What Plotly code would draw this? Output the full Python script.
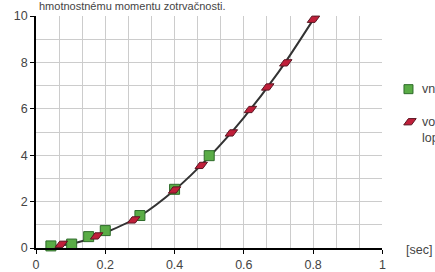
import plotly.graph_objects as go

# green series (squares)
green_x = [0.043, 0.103, 0.152, 0.2, 0.3, 0.4, 0.5]
green_y = [0.09, 0.17, 0.49, 0.75, 1.4, 2.53, 3.98]
# red series (parallelograms)
red_x = [0.073, 0.175, 0.282, 0.4, 0.477, 0.564, 0.619, 0.669, 0.721, 0.801]
red_y = [0.16, 0.52, 1.21, 2.5, 3.56, 4.96, 5.97, 6.94, 7.98, 9.86]
# curve
line_x = [0.04, 0.1, 0.15, 0.2, 0.3, 0.4, 0.5, 0.6, 0.7, 0.8, 0.815]
line_y = [0.07, 0.17, 0.38, 0.66, 1.38, 2.5, 3.93, 5.62, 7.58, 9.84, 10.2]

x_ticks = [0, 0.2, 0.4, 0.6, 0.8, 1]
x_labels = ["0", "0.2", "0.4", "0.6", "0.8", "1"]
y_ticks = [0, 2, 4, 6, 8, 10]

legend_names = ["vnútorný priemer", "vonkajší priemer<br>loptičky"]

GREEN = "#5aac46"
GREEN_EDGE = "#2e6b2a"
RED = "#c01f3a"
RED_EDGE = "#5a1622"

fig = go.Figure()
fig.add_trace(go.Scatter(x=line_x, y=line_y, mode="lines",
                         line=dict(color="#333333", width=2, shape="spline"),
                         showlegend=False))
fig.add_trace(go.Scatter(x=green_x, y=green_y, mode="markers",
                         marker=dict(symbol="square", size=10, color=GREEN, line=dict(color=GREEN_EDGE, width=1)),
                         showlegend=False, cliponaxis=False))
fig.add_trace(go.Scatter(x=red_x, y=red_y, mode="markers",
                         marker=dict(symbol="diamond-wide", size=10, angle=-27, color=RED,
                                     line=dict(color=RED_EDGE, width=1)),
                         showlegend=False, cliponaxis=False))

# legend swatches on a helper axis (pixel-like units)
fig.add_trace(go.Scatter(x=[17.2], y=[73], mode="markers", xaxis="x2", yaxis="y2",
                         marker=dict(symbol="square", size=9, color=GREEN, line=dict(color=GREEN_EDGE, width=1)),
                         showlegend=False, cliponaxis=False, hoverinfo="skip"))
fig.add_trace(go.Scatter(x=[18.7], y=[105.5], mode="markers", xaxis="x2", yaxis="y2",
                         marker=dict(symbol="diamond-wide", size=10, angle=-27, color=RED,
                                     line=dict(color=RED_EDGE, width=1)),
                         showlegend=False, cliponaxis=False, hoverinfo="skip"))

fnt = dict(family="Liberation Sans, Arial, sans-serif", size=12.5, color="#444444")

fig.update_layout(
    width=435, height=272,
    margin=dict(l=36, r=0, t=16, b=24, pad=0),
    paper_bgcolor="white", plot_bgcolor="white",
    font=fnt,
    xaxis=dict(domain=[0, 0.877], range=[0, 1], tickvals=x_ticks, ticktext=x_labels,
               showgrid=True, gridcolor="#cccccc", gridwidth=1,
               minor=dict(dtick=1/15, tick0=0, showgrid=True, gridcolor="#cccccc", gridwidth=1),
               showline=True, linecolor="black", linewidth=1.5, ticks="outside", ticklen=4, tickcolor="black",
               zeroline=False, fixedrange=True, tickfont=fnt),
    yaxis=dict(range=[0, 10], tickvals=y_ticks, showgrid=True, gridcolor="#cccccc", gridwidth=1,
               minor=dict(dtick=1, tick0=0, showgrid=True, gridcolor="#cccccc", gridwidth=1),
               showline=True, linecolor="black", linewidth=1.5, ticks="outside", ticklen=4, tickcolor="black",
               zeroline=False, fixedrange=True, tickfont=fnt),
    xaxis2=dict(domain=[0.9, 1.0], range=[0, 40], visible=False, fixedrange=True, anchor="y2"),
    yaxis2=dict(domain=[0, 1], range=[231.5, 0], visible=False, fixedrange=True, anchor="x2"),
    annotations=[
        dict(text="hmotnostnému momentu zotrvačnosti.", xref="paper", yref="paper", x=0.0, y=1.0,
             xshift=1, yshift=2, xanchor="left", yanchor="bottom", showarrow=False, font=dict(fnt, size=11)),
        dict(text="[sec]", xref="x2", yref="paper", x=12.7, y=0, yshift=-2, xanchor="left", yanchor="middle",
             showarrow=False, font=fnt),
        dict(text=legend_names[0], xref="x2", yref="y2", x=28.9, y=73, xanchor="left", yanchor="middle",
             showarrow=False, font=fnt),
        dict(text=legend_names[1], xref="x2", yref="y2", x=28.9, y=105.5, xanchor="left", yanchor="top",
             yshift=9, showarrow=False, font=fnt, align="left"),
    ],
)

fig.write_html("out.html", post_script="document.body.style.margin='0';",
               config={"displayModeBar": False})
